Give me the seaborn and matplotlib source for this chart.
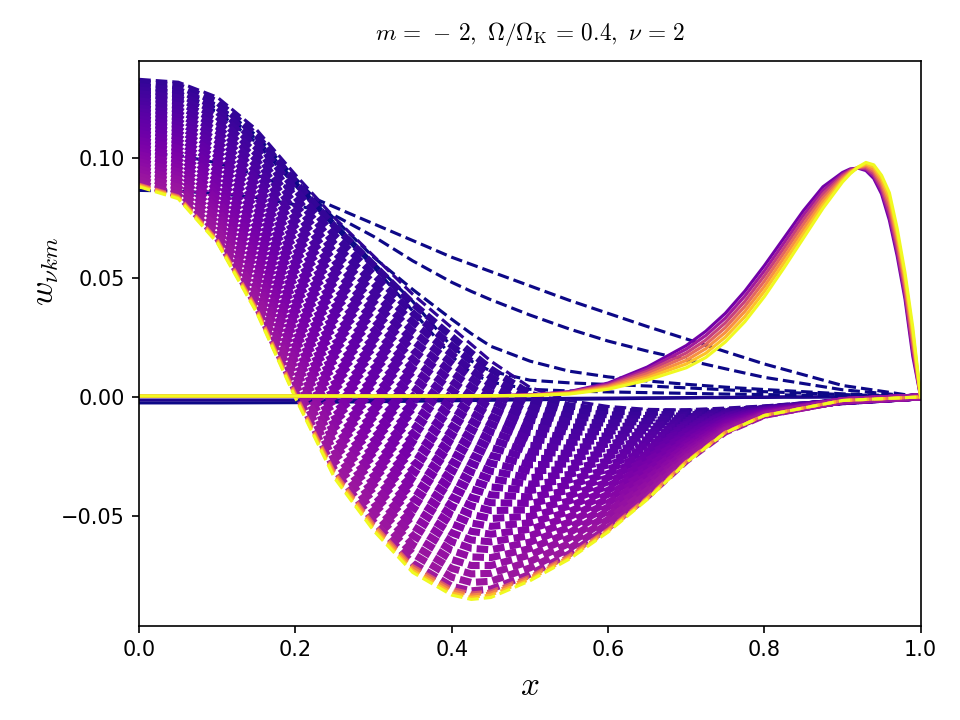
import matplotlib
matplotlib.use("Agg")
import matplotlib.pyplot as plt
import numpy as np
import seaborn as sns

# ---- dashed family ----
x_dashed = [0.0, 0.05, 0.10, 0.15, 0.20, 0.25, 0.30, 0.35, 0.40, 0.425,
            0.45, 0.50, 0.55, 0.60, 0.65, 0.70, 0.75, 0.80, 0.90, 1.00]

# first few curves (darkest colour) that split away from the band
navy_dashed = [
    [0.1020, 0.1012, 0.0980, 0.0930, 0.0865, 0.0795, 0.0725, 0.0655, 0.0585, 0.0555, 0.0525, 0.0465, 0.0405, 0.0350, 0.0295, 0.0243, 0.0190, 0.0138, 0.0048, 0.0],
    [0.0865, 0.0862, 0.0852, 0.0835, 0.0805, 0.0760, 0.0672, 0.0570, 0.0480, 0.0442, 0.0407, 0.0343, 0.0285, 0.0234, 0.0192, 0.0155, 0.0118, 0.0082, 0.0030, 0.0],
    [0.1290, 0.1280, 0.1225, 0.1095, 0.0915, 0.0745, 0.0585, 0.0450, 0.0325, 0.0265, 0.0212, 0.0150, 0.0108, 0.0084, 0.0067, 0.0053, 0.0041, 0.0031, 0.0013, 0.0],
    [0.1275, 0.1265, 0.1210, 0.1080, 0.0900, 0.0728, 0.0560, 0.0400, 0.0210, 0.0150, 0.0108, 0.0070, 0.0059, 0.0052, 0.0046, 0.0038, 0.0030, 0.0022, 0.0010, 0.0],
    [0.1260, 0.1250, 0.1195, 0.1065, 0.0885, 0.0712, 0.0545, 0.0360, 0.0170, 0.0100, 0.0062, 0.0032, 0.0025, 0.0021, 0.0018, 0.0015, 0.0012, 0.0010, 0.0004, 0.0],
]

# the wide band, top (dark) to bottom
band_dashed = [
    [0.1330, 0.1318, 0.1255, 0.1120, 0.0930, 0.0750, 0.0590, 0.0430, 0.0290, 0.0220, 0.0150, 0.0040, -0.0015, -0.0040, -0.0052, -0.0055, -0.0052, -0.0045, -0.0020, 0.0],
    [0.1315, 0.1302, 0.1235, 0.1095, 0.0899, 0.0714, 0.0552, 0.0391, 0.0253, 0.0184, 0.0117, 0.0013, -0.0037, -0.0058, -0.0065, -0.0062, -0.0055, -0.0046, -0.0020, 0.0],
    [0.1300, 0.1285, 0.1214, 0.1069, 0.0867, 0.0677, 0.0513, 0.0352, 0.0215, 0.0149, 0.0084, -0.0014, -0.0059, -0.0075, -0.0077, -0.0070, -0.0059, -0.0047, -0.0020, 0.0],
    [0.1285, 0.1269, 0.1194, 0.1044, 0.0836, 0.0641, 0.0475, 0.0314, 0.0178, 0.0113, 0.0051, -0.0041, -0.0082, -0.0093, -0.0090, -0.0077, -0.0062, -0.0048, -0.0020, 0.0],
    [0.1270, 0.1253, 0.1174, 0.1018, 0.0805, 0.0605, 0.0437, 0.0275, 0.0141, 0.0078, 0.0018, -0.0068, -0.0104, -0.0110, -0.0102, -0.0084, -0.0065, -0.0049, -0.0019, 0.0],
    [0.1255, 0.1237, 0.1153, 0.0993, 0.0774, 0.0568, 0.0398, 0.0236, 0.0103, 0.0042, -0.0015, -0.0095, -0.0126, -0.0128, -0.0115, -0.0092, -0.0068, -0.0051, -0.0019, 0.0],
    [0.1240, 0.1220, 0.1133, 0.0967, 0.0742, 0.0532, 0.0360, 0.0197, 0.0066, 0.0006, -0.0048, -0.0122, -0.0148, -0.0145, -0.0128, -0.0099, -0.0072, -0.0052, -0.0019, 0.0],
    [0.1225, 0.1204, 0.1113, 0.0942, 0.0711, 0.0496, 0.0322, 0.0158, 0.0029, -0.0029, -0.0081, -0.0149, -0.0170, -0.0163, -0.0140, -0.0106, -0.0075, -0.0053, -0.0019, 0.0],
    [0.1210, 0.1188, 0.1092, 0.0916, 0.0680, 0.0459, 0.0283, 0.0119, -0.0009, -0.0065, -0.0113, -0.0176, -0.0192, -0.0180, -0.0153, -0.0114, -0.0078, -0.0054, -0.0019, 0.0],
    [0.1195, 0.1172, 0.1072, 0.0891, 0.0649, 0.0423, 0.0245, 0.0081, -0.0046, -0.0100, -0.0146, -0.0203, -0.0215, -0.0198, -0.0165, -0.0121, -0.0081, -0.0055, -0.0019, 0.0],
    [0.1180, 0.1155, 0.1052, 0.0865, 0.0617, 0.0387, 0.0207, 0.0042, -0.0083, -0.0136, -0.0179, -0.0230, -0.0237, -0.0215, -0.0178, -0.0128, -0.0085, -0.0056, -0.0018, 0.0],
    [0.1165, 0.1139, 0.1031, 0.0840, 0.0586, 0.0350, 0.0168, 0.0003, -0.0121, -0.0172, -0.0212, -0.0257, -0.0259, -0.0233, -0.0191, -0.0136, -0.0088, -0.0057, -0.0018, 0.0],
    [0.1150, 0.1123, 0.1011, 0.0814, 0.0555, 0.0314, 0.0130, -0.0036, -0.0158, -0.0207, -0.0245, -0.0284, -0.0281, -0.0250, -0.0203, -0.0143, -0.0091, -0.0058, -0.0018, 0.0],
    [0.1135, 0.1107, 0.0991, 0.0789, 0.0524, 0.0278, 0.0092, -0.0075, -0.0195, -0.0243, -0.0278, -0.0311, -0.0303, -0.0268, -0.0216, -0.0150, -0.0094, -0.0059, -0.0018, 0.0],
    [0.1120, 0.1090, 0.0970, 0.0763, 0.0492, 0.0241, 0.0053, -0.0114, -0.0233, -0.0278, -0.0311, -0.0338, -0.0325, -0.0285, -0.0228, -0.0158, -0.0098, -0.0060, -0.0018, 0.0],
    [0.1105, 0.1074, 0.0950, 0.0738, 0.0461, 0.0205, 0.0015, -0.0153, -0.0270, -0.0314, -0.0344, -0.0365, -0.0348, -0.0303, -0.0241, -0.0165, -0.0101, -0.0062, -0.0018, 0.0],
    [0.1090, 0.1058, 0.0930, 0.0712, 0.0430, 0.0169, -0.0023, -0.0191, -0.0307, -0.0350, -0.0377, -0.0392, -0.0370, -0.0321, -0.0254, -0.0172, -0.0104, -0.0063, -0.0017, 0.0],
    [0.1075, 0.1041, 0.0909, 0.0687, 0.0398, 0.0132, -0.0062, -0.0230, -0.0345, -0.0385, -0.0410, -0.0419, -0.0392, -0.0338, -0.0266, -0.0180, -0.0108, -0.0064, -0.0017, 0.0],
    [0.1060, 0.1025, 0.0889, 0.0661, 0.0367, 0.0096, -0.0100, -0.0269, -0.0382, -0.0421, -0.0443, -0.0446, -0.0414, -0.0356, -0.0279, -0.0187, -0.0111, -0.0065, -0.0017, 0.0],
    [0.1045, 0.1009, 0.0869, 0.0636, 0.0336, 0.0060, -0.0138, -0.0308, -0.0419, -0.0456, -0.0476, -0.0473, -0.0436, -0.0373, -0.0291, -0.0194, -0.0114, -0.0066, -0.0017, 0.0],
    [0.1030, 0.0993, 0.0848, 0.0610, 0.0305, 0.0023, -0.0177, -0.0347, -0.0457, -0.0492, -0.0509, -0.0500, -0.0458, -0.0391, -0.0304, -0.0202, -0.0117, -0.0067, -0.0017, 0.0],
    [0.1015, 0.0976, 0.0828, 0.0585, 0.0273, -0.0013, -0.0215, -0.0386, -0.0494, -0.0528, -0.0542, -0.0527, -0.0481, -0.0408, -0.0317, -0.0209, -0.0121, -0.0068, -0.0017, 0.0],
    [0.1000, 0.0960, 0.0808, 0.0559, 0.0242, -0.0049, -0.0253, -0.0424, -0.0531, -0.0563, -0.0575, -0.0554, -0.0503, -0.0426, -0.0329, -0.0216, -0.0124, -0.0069, -0.0016, 0.0],
    [0.0985, 0.0944, 0.0787, 0.0534, 0.0211, -0.0086, -0.0292, -0.0463, -0.0569, -0.0599, -0.0607, -0.0581, -0.0525, -0.0443, -0.0342, -0.0224, -0.0127, -0.0070, -0.0016, 0.0],
    [0.0970, 0.0928, 0.0767, 0.0508, 0.0180, -0.0122, -0.0330, -0.0502, -0.0606, -0.0634, -0.0640, -0.0608, -0.0547, -0.0461, -0.0354, -0.0231, -0.0130, -0.0071, -0.0016, 0.0],
    [0.0955, 0.0911, 0.0747, 0.0483, 0.0148, -0.0158, -0.0368, -0.0541, -0.0643, -0.0670, -0.0673, -0.0635, -0.0569, -0.0478, -0.0367, -0.0238, -0.0134, -0.0073, -0.0016, 0.0],
    [0.0940, 0.0895, 0.0726, 0.0457, 0.0117, -0.0195, -0.0407, -0.0580, -0.0681, -0.0706, -0.0706, -0.0662, -0.0591, -0.0496, -0.0380, -0.0246, -0.0137, -0.0074, -0.0016, 0.0],
    [0.0925, 0.0879, 0.0706, 0.0432, 0.0086, -0.0231, -0.0445, -0.0619, -0.0718, -0.0741, -0.0739, -0.0689, -0.0614, -0.0513, -0.0392, -0.0253, -0.0140, -0.0075, -0.0016, 0.0],
    [0.0910, 0.0863, 0.0686, 0.0406, 0.0055, -0.0267, -0.0483, -0.0657, -0.0755, -0.0777, -0.0772, -0.0716, -0.0636, -0.0531, -0.0405, -0.0260, -0.0143, -0.0076, -0.0015, 0.0],
    [0.0895, 0.0846, 0.0665, 0.0381, 0.0023, -0.0304, -0.0522, -0.0696, -0.0793, -0.0812, -0.0805, -0.0743, -0.0658, -0.0548, -0.0417, -0.0268, -0.0147, -0.0077, -0.0015, 0.0],
]

# the last curves, bunched at the lower edge (orange -> yellow)
edge_dashed = [
    [0.0891, 0.0842, 0.0660, 0.0374, 0.0015, -0.0313, -0.0531, -0.0706, -0.0802, -0.0821, -0.0813, -0.0750, -0.0663, -0.0553, -0.0421, -0.0270, -0.0148, -0.0077, -0.0015, 0.0],
    [0.0888, 0.0838, 0.0655, 0.0368, 0.0008, -0.0321, -0.0540, -0.0715, -0.0811, -0.0830, -0.0821, -0.0756, -0.0669, -0.0557, -0.0424, -0.0271, -0.0148, -0.0077, -0.0015, 0.0],
    [0.0884, 0.0834, 0.0650, 0.0361, -0.0001, -0.0331, -0.0551, -0.0726, -0.0821, -0.0839, -0.0830, -0.0764, -0.0675, -0.0562, -0.0427, -0.0273, -0.0149, -0.0078, -0.0015, 0.0],
    [0.0880, 0.0830, 0.0645, 0.0355, -0.0005, -0.0340, -0.0560, -0.0735, -0.0830, -0.0848, -0.0840, -0.0770, -0.0680, -0.0566, -0.0430, -0.0275, -0.0150, -0.0078, -0.0015, 0.0],
]

# ---- solid family ----
x_solid = [0.0, 0.10, 0.20, 0.30, 0.40, 0.50, 0.55, 0.60, 0.65, 0.70, 0.725, 0.75, 0.775, 0.80,
           0.825, 0.85, 0.875, 0.90, 0.91, 0.92, 0.93, 0.94, 0.95, 0.96, 0.97, 0.98, 0.99, 1.00]

flat_solid = [
    [-0.0025, -0.0025, -0.0024, -0.0020, -0.0016, -0.0012, -0.0010, -0.0008, -0.0006, -0.0004, -0.0003, -0.0003, -0.0002, -0.0002,
     -0.0001, -0.0001, 0, 0, 0, 0, 0, 0, 0, 0, 0, 0, 0, 0],
    [-0.0013, -0.0013, -0.0013, -0.0012, -0.0010, -0.0008, -0.0006, -0.0005, -0.0004, -0.0003, -0.0002, -0.0002, -0.0001, -0.0001,
     0, 0, 0, 0, 0, 0, 0, 0, 0, 0, 0, 0, 0, 0],
]

bump_solid = [
    [0.0002, 0.0002, 0.0002, 0.0002, 0.0002, 0.0008, 0.0022, 0.0058, 0.0125, 0.0215, 0.0275, 0.0350, 0.0443, 0.0550,
     0.0665, 0.0780, 0.0880, 0.0940, 0.0955, 0.0958, 0.0948, 0.0915, 0.0850, 0.0740, 0.0590, 0.0410, 0.0170, 0.0],
    [0.0002, 0.0002, 0.0002, 0.0002, 0.0002, 0.0008, 0.0020, 0.0054, 0.0116, 0.0200, 0.0257, 0.0330, 0.0422, 0.0528,
     0.0644, 0.0761, 0.0865, 0.0933, 0.0952, 0.0959, 0.0954, 0.0925, 0.0863, 0.0759, 0.0609, 0.0428, 0.0190, 0.0],
    [0.0003, 0.0003, 0.0003, 0.0003, 0.0003, 0.0007, 0.0019, 0.0049, 0.0107, 0.0184, 0.0238, 0.0310, 0.0400, 0.0507,
     0.0623, 0.0742, 0.0850, 0.0927, 0.0948, 0.0960, 0.0959, 0.0934, 0.0876, 0.0778, 0.0628, 0.0447, 0.0210, 0.0],
    [0.0003, 0.0003, 0.0003, 0.0003, 0.0003, 0.0007, 0.0017, 0.0045, 0.0098, 0.0169, 0.0220, 0.0290, 0.0379, 0.0485,
     0.0603, 0.0723, 0.0835, 0.0920, 0.0945, 0.0961, 0.0965, 0.0944, 0.0889, 0.0798, 0.0648, 0.0465, 0.0230, 0.0],
    [0.0003, 0.0003, 0.0003, 0.0003, 0.0003, 0.0007, 0.0015, 0.0041, 0.0088, 0.0153, 0.0202, 0.0270, 0.0358, 0.0463,
     0.0582, 0.0703, 0.0820, 0.0913, 0.0942, 0.0961, 0.0971, 0.0953, 0.0902, 0.0817, 0.0667, 0.0483, 0.0250, 0.0],
    [0.0004, 0.0004, 0.0004, 0.0004, 0.0004, 0.0006, 0.0014, 0.0036, 0.0079, 0.0138, 0.0183, 0.0250, 0.0336, 0.0442,
     0.0561, 0.0684, 0.0805, 0.0907, 0.0938, 0.0962, 0.0976, 0.0963, 0.0915, 0.0836, 0.0686, 0.0502, 0.0270, 0.0],
    [0.0004, 0.0004, 0.0004, 0.0004, 0.0004, 0.0006, 0.0012, 0.0032, 0.0070, 0.0122, 0.0165, 0.0230, 0.0315, 0.0420,
     0.0540, 0.0665, 0.0790, 0.0900, 0.0935, 0.0963, 0.0982, 0.0972, 0.0928, 0.0855, 0.0705, 0.0520, 0.0290, 0.0],
]

title = r'$m\,=\,-\,2,\ \Omega/\Omega_{\rm K}\,=\,0.4,\ \nu\,=\,2$'

plt.rcParams['mathtext.fontset'] = 'cm'
cmap = plt.get_cmap('plasma')

fig, ax = plt.subplots(figsize=(6.4, 4.8), dpi=150)
fig.subplots_adjust(left=0.145, right=0.959, top=0.915, bottom=0.131)


def draw(xs, ys, shade, lw=1.5, dashed=True):
    # keep dash/gap length the same in points whatever the width
    ls = (0, (5.55 / lw, 2.4 / lw)) if dashed else '-'
    sns.lineplot(x=xs, y=ys, color=cmap(shade), linewidth=lw, linestyle=ls,
                 estimator=None, sort=False, ax=ax)


for ys, shade in zip(flat_solid, [0.0, 0.03]):
    draw(x_solid, ys, shade, dashed=False)

for ys in navy_dashed:
    draw(x_dashed, ys, 0.0)

band_shades = np.linspace(0.06, 0.34, len(band_dashed))
for k, (ys, shade) in enumerate(zip(band_dashed, band_shades)):
    draw(x_dashed, ys, shade, lw=1.5 if k == 0 else 3.4)

for ys, shade in zip(edge_dashed, [0.55, 0.7, 0.85, 1.0]):
    draw(x_dashed, ys, shade)

bump_shades = [0.22, 0.35, 0.48, 0.61, 0.74, 0.87, 1.0]
for ys, shade in zip(bump_solid, bump_shades):
    draw(x_solid, ys, shade, dashed=False)

ax.set_xlim(0, 1)
ax.set_ylim(-0.0958, 0.1406)
ax.set_xticks([0.0, 0.2, 0.4, 0.6, 0.8, 1.0])
ax.set_yticks([-0.05, 0.0, 0.05, 0.10])
ax.set_yticklabels(['−0.05', '0.00', '0.05', '0.10'])
ax.set_title(title, fontsize=11.2, pad=10)
ax.set_xlabel(r'$x$', fontsize=16)
ax.set_ylabel(r'$w_{\nu k m}$', fontsize=16)
ax.yaxis.set_label_coords(-0.10, 0.628)

fig.savefig('out.png', dpi=150)
